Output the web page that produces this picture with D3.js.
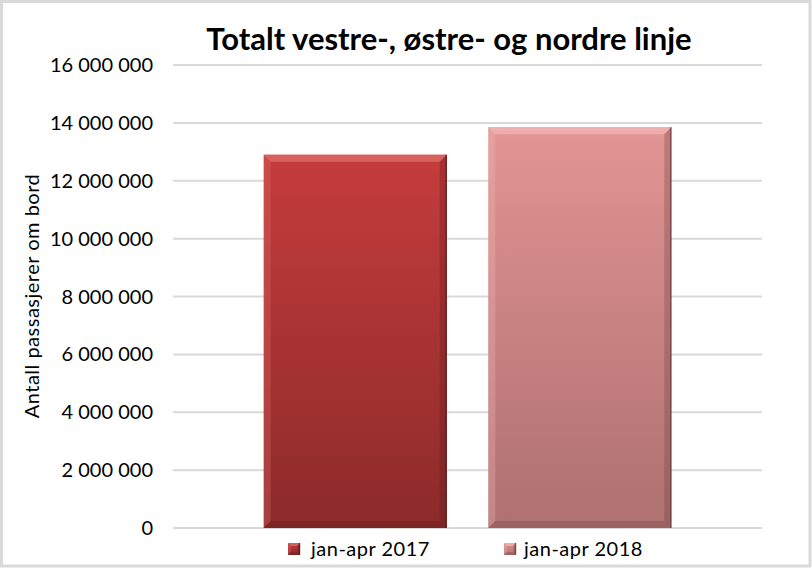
<!DOCTYPE html>
<html><head><meta charset="utf-8">
<script src="https://cdn.jsdelivr.net/npm/d3@7"></script>
<style>body{margin:0;background:#fff}svg{display:block}</style>
</head><body>
<script>
const title = "Totalt vestre-, østre- og nordre linje";
const yAxisTitle = "Antall passasjerer om bord";
const series = ["jan-apr 2017", "jan-apr 2018"];
const values = [12900000, 13850000];
const yTicks = [0, 2000000, 4000000, 6000000, 8000000, 10000000, 12000000, 14000000, 16000000];
const colors = [
  {top:"#c53c3c", bot:"#8c2a2a", light:"#e0706e", dark:"#5e1a1a"},
  {top:"#e39494", bot:"#ae7070", light:"#f4b8b8", dark:"#6e4040"}
];

const W = 812, H = 568;
const svg = d3.select("body").append("svg").attr("width", W).attr("height", H);
const font = "Lato, 'Open Sans', sans-serif";

svg.append("rect").attr("x",1.5).attr("y",1.5).attr("width",W-3.5).attr("height",H-3.5)
  .attr("fill","#fff").attr("stroke","#d9d9d9").attr("stroke-width",3);

const y = d3.scaleLinear().domain([0,16000000]).range([528,65]);
const x = d3.scaleBand().domain(series).range([173,762]).paddingInner(0.185).paddingOuter(0.404);

const fmt = v => d3.format(",")(v).replace(/,/g, " ");

// gridlines
svg.append("g").selectAll("line").data(yTicks).join("line")
  .attr("x1",173).attr("x2",762).attr("y1",d=>y(d)).attr("y2",d=>y(d))
  .attr("stroke","#d9d9d9").attr("stroke-width",2);

// tick labels
svg.append("g").selectAll("text").data(yTicks).join("text")
  .attr("x",153).attr("y",d=>y(d)).attr("dy","0.35em").attr("text-anchor","end")
  .attr("font-family",font).attr("font-size",20).attr("fill","#000").text(fmt);

// y axis title
svg.append("text").attr("transform","translate(39,296) rotate(-90)")
  .attr("text-anchor","middle").attr("font-family",font).attr("font-size",20)
  .attr("letter-spacing",0.5).attr("fill","#000")
  .text(yAxisTitle);

// title
svg.append("text").attr("x",449).attr("y",50).attr("text-anchor","middle")
  .attr("font-family",font).attr("font-weight","bold").attr("font-size",31).attr("fill","#000")
  .text(title);

const defs = svg.append("defs");
colors.forEach((c,i)=>{
  const g = defs.append("linearGradient").attr("id","g"+i).attr("x1",0).attr("y1",0).attr("x2",0).attr("y2",1);
  g.append("stop").attr("offset","0%").attr("stop-color",c.top);
  g.append("stop").attr("offset","100%").attr("stop-color",c.bot);
});

function bevelBar(sel, x0, y0, w, h, i, b){
  const c = colors[i];
  sel.append("rect").attr("x",x0).attr("y",y0).attr("width",w).attr("height",h).attr("fill","url(#g"+i+")");
  const x1 = x0+w, y1 = y0+h;
  sel.append("polygon").attr("points",[[x0,y0],[x1,y0],[x1-b,y0+b],[x0+b,y0+b]].join(" "))
    .attr("fill",c.light).attr("opacity",0.7);
  sel.append("polygon").attr("points",[[x0,y0],[x0+b,y0+b],[x0+b,y1-b],[x0,y1]].join(" "))
    .attr("fill",c.light).attr("opacity",0.3);
  sel.append("polygon").attr("points",[[x1,y0],[x1,y1],[x1-b,y1-b],[x1-b,y0+b]].join(" "))
    .attr("fill",c.dark).attr("opacity",0.3);
  sel.append("polygon").attr("points",[[x0,y1],[x0+b,y1-b],[x1-b,y1-b],[x1,y1]].join(" "))
    .attr("fill",c.dark).attr("opacity",0.3);
  sel.append("line").attr("x1",x1-0.5).attr("x2",x1-0.5).attr("y1",y0).attr("y2",y1)
    .attr("stroke",c.dark).attr("stroke-width",1.5).attr("opacity",0.8);
}

series.forEach((s,i)=>{
  const g = svg.append("g");
  bevelBar(g, x(s), y(values[i]), x.bandwidth(), y(0)-y(values[i]), i, 7);
});

// legend
const legX = [288, 504], textX = [311, 524];
series.forEach((s,i)=>{
  const g = svg.append("g");
  bevelBar(g, legX[i], 543, 12, 12, i, 3);
  g.append("text").attr("x",textX[i]).attr("y",549).attr("dy","0.35em")
    .attr("font-family",font).attr("font-size",20).attr("letter-spacing",0.5).attr("fill","#000").text(s);
});
</script>
</body></html>
